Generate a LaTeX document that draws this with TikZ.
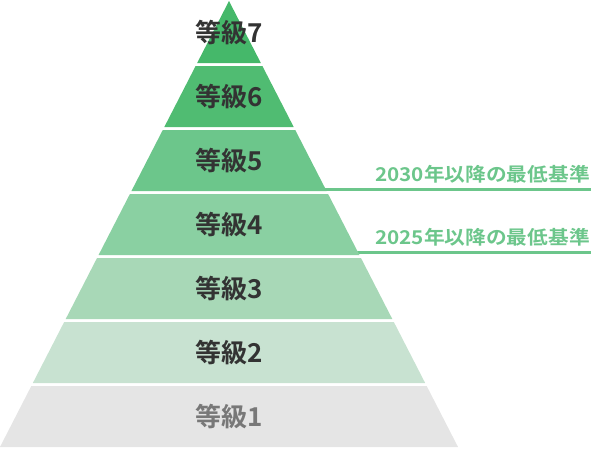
\documentclass[tikz,border=0pt]{standalone}
\usepackage{fontspec}
\setmainfont{Noto Sans CJK JP}[BoldFont={Noto Sans CJK JP Bold}]
\definecolor{c7}{HTML}{45B86A}
\definecolor{c6}{HTML}{50BC72}
\definecolor{c5}{HTML}{6CC68B}
\definecolor{c4}{HTML}{8AD0A2}
\definecolor{c3}{HTML}{A8D8B7}
\definecolor{c2}{HTML}{C8E2D1}
\definecolor{c1}{HTML}{E5E5E5}
\definecolor{tdark}{HTML}{333333}
\definecolor{tgray}{HTML}{787878}
\definecolor{sidecol}{HTML}{6CC68B}
\tikzset{
  lvllabel/.style={font=\fontsize{26}{30}\selectfont\bfseries, inner sep=0pt},
  sidelabel/.style={font=\fontsize{19}{22}\selectfont\bfseries, text=sidecol, inner sep=0pt, anchor=base east},
  sideline/.style={draw=sidecol, line width=3pt}
}
\begin{document}
\begin{tikzpicture}[x=1pt,y=-1pt]
\useasboundingbox (0,0) rectangle (591,448);
\def\ax{229}\def\ay{1}\def\sl{0.5135}
% side lines (behind pyramid)
\coordinate (e30) at ({\ax+\sl*(189-\ay)-2},189);
\coordinate (r30) at (591,189);
\coordinate (e25) at ({\ax+\sl*(252-\ay)-2},252);
\coordinate (r25) at (591,252);
\draw[sideline] (e30) -- (r30);
\draw[sideline] (e25) -- (r25);
% bands
\foreach \i/\t/\b/\col/\tc in {1/386/447/c1/tgray,2/322/383/c2/tdark,3/258/319/c3/tdark,4/194/255/c4/tdark,5/130/191/c5/tdark,6/66/127/c6/tdark,7/1/63/c7/tdark}{
  \fill[\col] ({\ax-\sl*(\t-\ay)},\t) -- ({\ax+\sl*(\t-\ay)},\t) -- ({\ax+\sl*(\b-\ay)},\b) -- ({\ax-\sl*(\b-\ay)},\b) -- cycle;
}
\node[lvllabel, text=tgray] (lv1) at (\ax,416.5) {等級1};
\node[lvllabel, text=tdark] (lv2) at (\ax,352.5) {等級2};
\node[lvllabel, text=tdark] (lv3) at (\ax,288.5) {等級3};
\node[lvllabel, text=tdark] (lv4) at (\ax,224.5) {等級4};
\node[lvllabel, text=tdark] (lv5) at (\ax,160.5) {等級5};
\node[lvllabel, text=tdark] (lv6) at (\ax,96.5) {等級6};
\node[lvllabel, text=tdark] (lv7) at (\ax,32.5) {等級7};
\node[sidelabel] (s30) at (590,181) {\scalebox{1.09}[1]{2030年以降の最低基準}};
\node[sidelabel] (s25) at (590,244) {\scalebox{1.09}[1]{2025年以降の最低基準}};
\end{tikzpicture}
\end{document}
